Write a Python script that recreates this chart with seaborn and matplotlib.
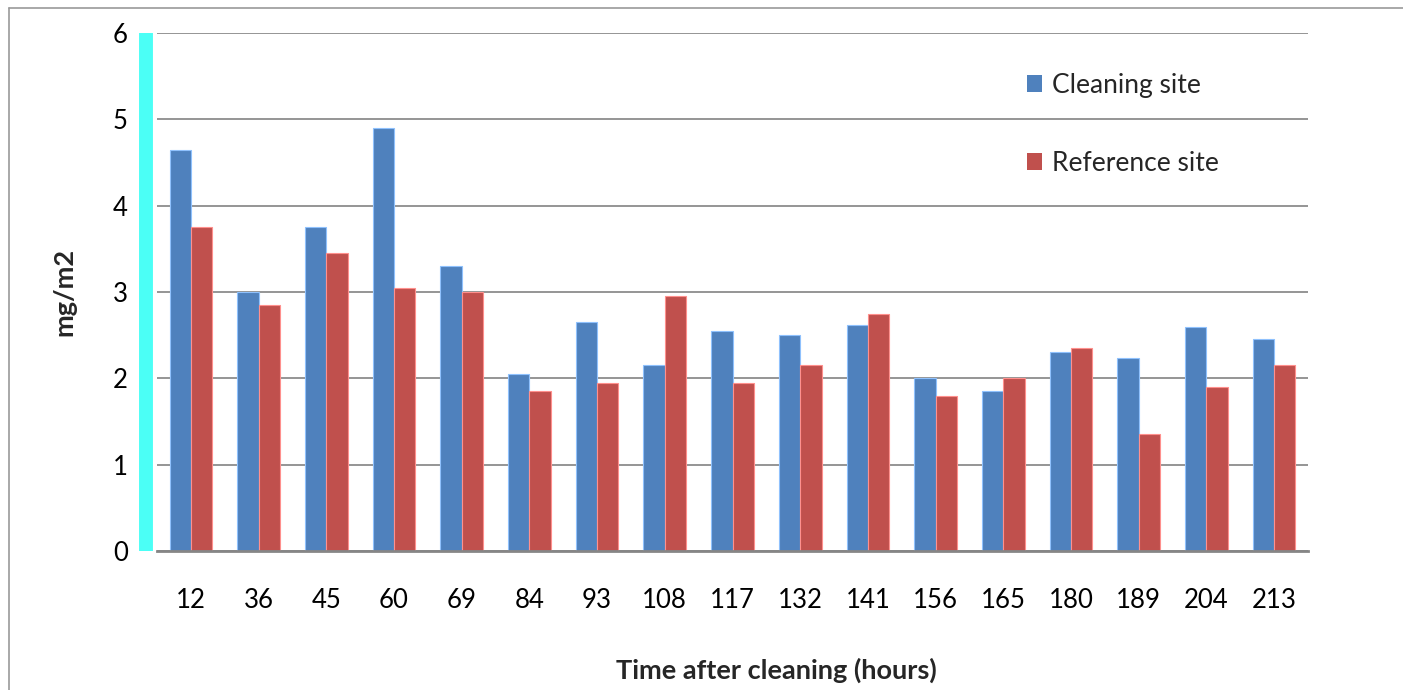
import matplotlib
matplotlib.use("Agg")
import matplotlib.pyplot as plt
from matplotlib.lines import Line2D
from matplotlib.patches import Patch
import seaborn as sns
import pandas as pd

# Deposition per sampling time after cleaning
hours = ["12", "36", "45", "60", "69", "84", "93", "108", "117",
         "132", "141", "156", "165", "180", "189", "204", "213"]
cleaning_site = [4.65, 3.00, 3.75, 4.90, 3.30, 2.05, 2.65, 2.15, 2.55,
                 2.50, 2.62, 2.00, 1.85, 2.30, 2.23, 2.60, 2.45]
reference_site = [3.75, 2.85, 3.45, 3.05, 3.00, 1.85, 1.95, 2.95, 1.95,
                  2.15, 2.75, 1.80, 2.00, 2.35, 1.35, 1.90, 2.15]
series_names = ["Cleaning site", "Reference site"]
series_colors = ["#4F81BD", "#C0504D"]
y_ticks = [0, 1, 2, 3, 4, 5, 6]

df = pd.DataFrame({
    "hours": hours * 2,
    "value": cleaning_site + reference_site,
    "site": [series_names[0]] * len(hours) + [series_names[1]] * len(hours),
})

sns.set_style("white")
plt.rcParams["font.family"] = ["Lato", "DejaVu Sans"]

W, H, DPI = 1403, 690, 100
fig = plt.figure(figsize=(W / DPI, H / DPI), dpi=DPI)
left, right, top, bottom = 157, 1308, 33, 551
ax = fig.add_axes([left / W, 1 - bottom / H, (right - left) / W, (bottom - top) / H])

sns.barplot(data=df, x="hours", y="value", hue="site", order=hours,
            hue_order=series_names, palette=series_colors, width=0.63,
            gap=0, saturation=1, errorbar=None, legend=False, ax=ax,
            linewidth=0.8)
for patch in ax.patches:
    fc = patch.get_facecolor()
    patch.set_edgecolor(tuple(min(1, c + 0.25) for c in fc[:3]) + (1,))

ax.set_ylim(0, 6)
ax.set_xlim(-0.5, len(hours) - 0.5)
ax.set_yticks(y_ticks)
ax.set_yticklabels([str(t) for t in y_ticks])
ax.yaxis.grid(True, color="#8C8C8C", linewidth=1.3)
ax.set_axisbelow(True)

for s in ["top", "right"]:
    ax.spines[s].set_visible(False)
ax.spines["bottom"].set_color("#868686")
ax.spines["bottom"].set_linewidth(2.0)
ax.spines["left"].set_color("#4BFFF6")
ax.spines["left"].set_linewidth(10)
ax.spines["left"].set_position(("outward", 8))
ax.spines["left"].set_capstyle("butt")

ax.tick_params(axis="both", length=0, labelsize=18.5, colors="black")
ax.tick_params(axis="y", pad=13)
ax.tick_params(axis="x", pad=27)
ax.set_xlabel("")
ax.set_ylabel("mg/m2", fontsize=19.5, fontweight="bold")
ax.yaxis.set_label_coords(-0.07, 0.5)

fig.text(776 / W, 1 - 670 / H, "Time after cleaning (hours)", ha="center",
         va="center", fontsize=19.5, fontweight="bold")

handles = [Patch(facecolor=c, edgecolor="none") for c in series_colors]
fig.legend(handles, series_names, loc="upper left",
           bbox_to_anchor=(1027 / W, 1 - 73 / H), frameon=False,
           fontsize=19, handlelength=0.58, handleheight=0.58,
           handletextpad=0.35, labelspacing=2.0, borderpad=0, borderaxespad=0)

# Chart frame (top and left edges)
fig.add_artist(Line2D([8.5 / W, 1.0], [1 - 7.5 / H, 1 - 7.5 / H],
                      transform=fig.transFigure, color="#9A9A9A", linewidth=1.2))
fig.add_artist(Line2D([8.5 / W, 8.5 / W], [0, 1 - 7.5 / H],
                      transform=fig.transFigure, color="#9A9A9A", linewidth=1.2))

fig.savefig("out.png", dpi=DPI, facecolor="white")
